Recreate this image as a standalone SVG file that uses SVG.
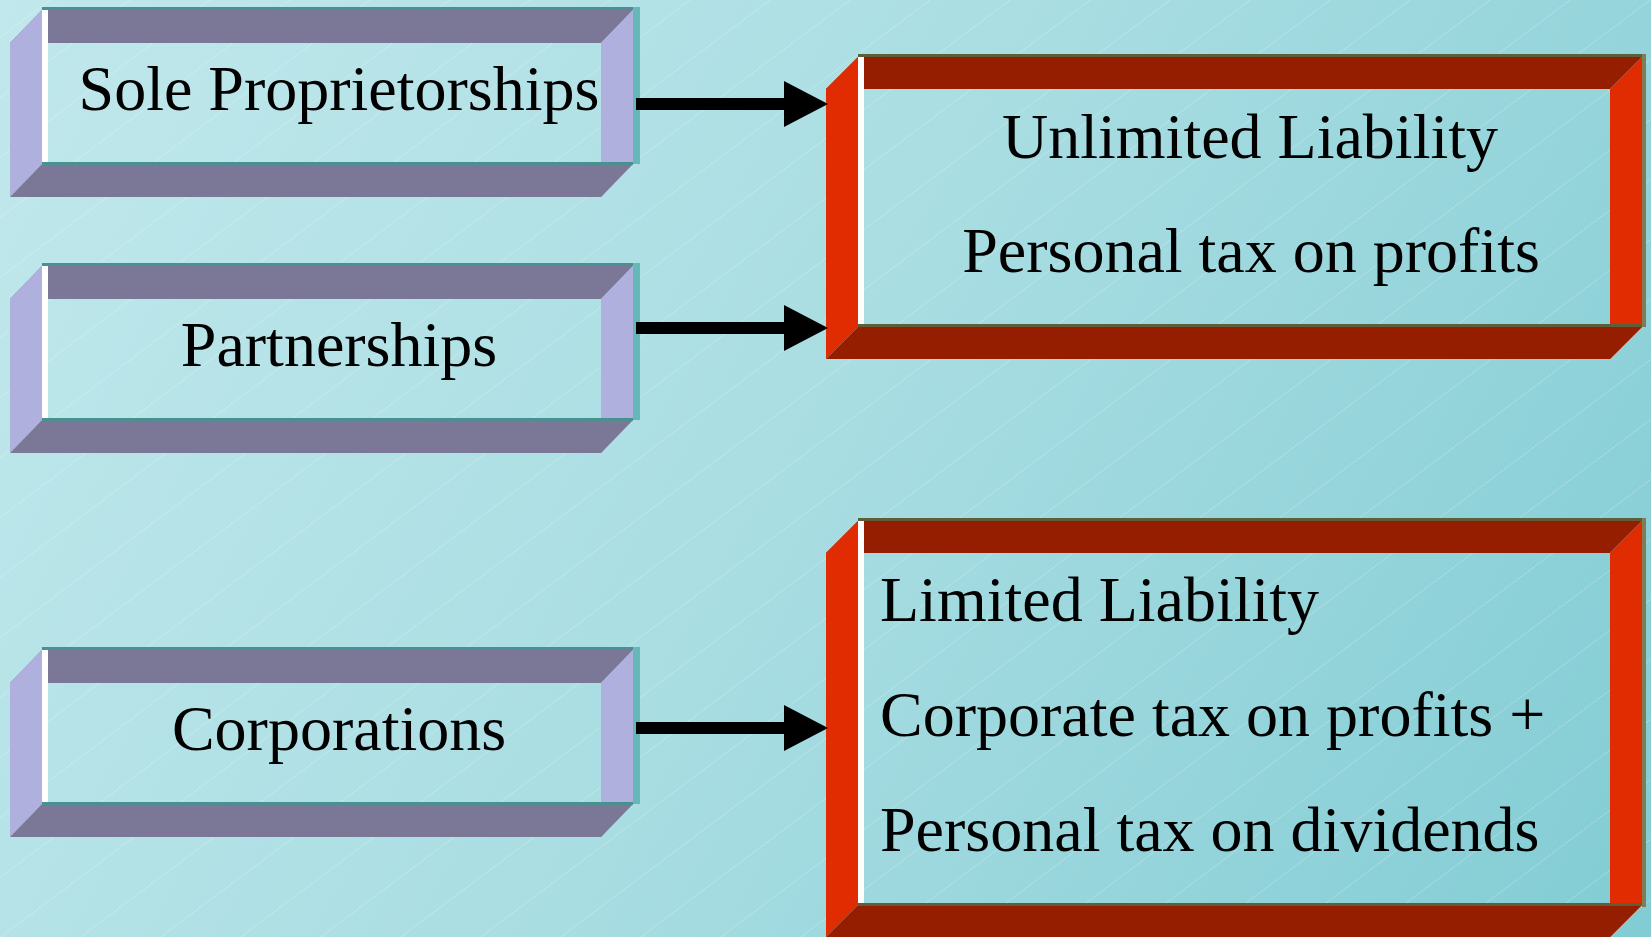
<svg xmlns="http://www.w3.org/2000/svg" width="1651" height="937" viewBox="0 0 1651 937">
  <defs>
    <linearGradient id="bg" x1="0" y1="0" x2="1651" y2="937" gradientUnits="userSpaceOnUse">
      <stop offset="0" stop-color="#C1E8EC"/>
      <stop offset="0.5" stop-color="#A8DDE2"/>
      <stop offset="1" stop-color="#82CCD4"/>
    </linearGradient>
    <pattern id="hatch" x="50" y="0" width="80" height="60" patternUnits="userSpaceOnUse">
      <line x1="-8" y1="66" x2="88" y2="-6" stroke="#FFFFFF" stroke-opacity="0.35" stroke-width="1" stroke-dasharray="2 1"/>
    </pattern>
    <marker id="arrowhead" markerUnits="userSpaceOnUse" markerWidth="46" markerHeight="46" refX="0" refY="23" orient="auto" viewBox="0 0 46 46">
      <path d="M0,0 L44,23 L0,46 Z" fill="#000000"/>
    </marker>
    <style>
      .lt { fill: #7A7896; }
      .ls { fill: #B0B0DE; }
      .lline { fill: #4A9090; }
      .lright { fill: #66B8B8; }
      .rt { fill: #951E00; }
      .rs { fill: #E02C00; }
      .rline { fill: #5E5E38; }
      .rright { fill: #7E7E52; }
      .white { fill: #FFFFFF; }
      .label { font-family: "Liberation Serif", "Times New Roman", serif; font-size: 64px; fill: #000000; }
      .mid { text-anchor: middle; }
      .conn { stroke: #000000; stroke-width: 12; fill: none; marker-end: url(#arrowhead); }
    </style>
  </defs>

  <rect x="0" y="0" width="1651" height="937" fill="url(#bg)"/>
  <rect x="0" y="0" width="1651" height="937" fill="url(#hatch)"/>

  <g id="node-sole">
    <polygon class="lt" points="42,10 633,10 601,43 10,43"/>
    <polygon class="ls" points="633,10 633,164 601,197 601,43"/>
    <polygon class="ls" points="10,43 42,10 42,164 10,197"/>
    <polygon class="lt" points="42,164 633,164 601,197 10,197"/>
    <rect class="white" x="42" y="10" width="6" height="153"/>
    <rect class="lline" x="42" y="7" width="596" height="3"/>
    <rect class="lright" x="633" y="7" width="7" height="157"/>
    <rect class="lline" x="42" y="162" width="591" height="3"/>
    <text class="label mid" x="339" y="110">Sole Proprietorships</text>
  </g>

  <g id="node-partnerships" transform="translate(0,256)">
    <polygon class="lt" points="42,10 633,10 601,43 10,43"/>
    <polygon class="ls" points="633,10 633,164 601,197 601,43"/>
    <polygon class="ls" points="10,43 42,10 42,164 10,197"/>
    <polygon class="lt" points="42,164 633,164 601,197 10,197"/>
    <rect class="white" x="42" y="10" width="6" height="153"/>
    <rect class="lline" x="42" y="7" width="596" height="3"/>
    <rect class="lright" x="633" y="7" width="7" height="157"/>
    <rect class="lline" x="42" y="162" width="591" height="3"/>
    <text class="label mid" x="339" y="110">Partnerships</text>
  </g>

  <g id="node-corporations" transform="translate(0,640)">
    <polygon class="lt" points="42,10 633,10 601,43 10,43"/>
    <polygon class="ls" points="633,10 633,164 601,197 601,43"/>
    <polygon class="ls" points="10,43 42,10 42,164 10,197"/>
    <polygon class="lt" points="42,164 633,164 601,197 10,197"/>
    <rect class="white" x="42" y="10" width="6" height="153"/>
    <rect class="lline" x="42" y="7" width="596" height="3"/>
    <rect class="lright" x="633" y="7" width="7" height="157"/>
    <rect class="lline" x="42" y="162" width="591" height="3"/>
    <text class="label mid" x="339" y="110">Corporations</text>
  </g>

  <g id="node-unlimited">
    <polygon class="rt" points="858,57 1642,57 1610,89 826,89"/>
    <polygon class="rs" points="1642,57 1642,327 1610,359 1610,89"/>
    <polygon class="rs" points="826,89 858,57 858,327 826,359"/>
    <polygon class="rt" points="858,327 1642,327 1610,359 826,359"/>
    <rect class="white" x="858" y="57" width="6" height="268"/>
    <rect class="rline" x="858" y="54" width="788" height="3"/>
    <rect class="rright" x="1642" y="54" width="4" height="273"/>
    <rect class="rline" x="858" y="324" width="784" height="3"/>
    <text class="label mid" x="1250" y="158">Unlimited Liability</text>
    <text class="label mid" x="1251" y="272">Personal tax on profits</text>
  </g>

  <g id="node-limited">
    <polygon class="rt" points="858,521 1642,521 1610,553 826,553"/>
    <polygon class="rs" points="1642,521 1642,905 1610,937 1610,553"/>
    <polygon class="rs" points="826,553 858,521 858,905 826,937"/>
    <polygon class="rt" points="858,905 1642,905 1610,937 826,937"/>
    <rect class="white" x="858" y="521" width="6" height="383"/>
    <rect class="rline" x="858" y="518" width="788" height="3"/>
    <rect class="rright" x="1642" y="518" width="4" height="389"/>
    <rect class="rline" x="858" y="903" width="784" height="3"/>
    <text class="label" x="880" y="621">Limited Liability</text>
    <text class="label" x="880" y="736">Corporate tax on profits +</text>
    <text class="label" x="880" y="851">Personal tax on dividends</text>
  </g>

  <g id="connectors">
    <line class="conn" x1="636" y1="104" x2="784" y2="104"/>
    <line class="conn" x1="636" y1="328" x2="784" y2="328"/>
    <line class="conn" x1="636" y1="728" x2="784" y2="728"/>
  </g>
</svg>
